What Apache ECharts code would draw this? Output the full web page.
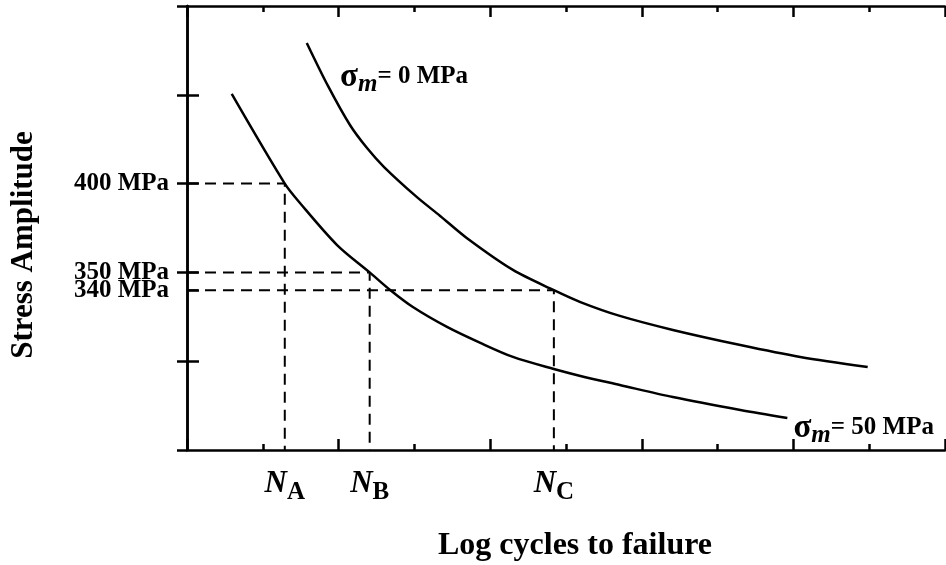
<!DOCTYPE html>
<html><head><meta charset="utf-8">
<script src="https://cdn.jsdelivr.net/npm/echarts@6/dist/echarts.min.js"></script>
<style>html,body{margin:0;padding:0;background:#fff}#c{width:946px;height:565px}</style>
</head><body><div id="c"></div>
<script>
// sigma_m = 0 MPa curve (x: log cycles, arbitrary units; y: stress amplitude MPa)
const curve0X = [1.58, 1.86, 2.15, 2.375, 2.60, 3.03, 3.34, 3.69, 4.30, 4.84, 5.19, 5.71, 6.41, 7.30, 8.09, 8.98];
const curve0Y = [479.2, 455.0, 433.0, 420.0, 409.3, 392.5, 381.8, 369.4, 351.4, 340, 333.3, 325.5, 317.6, 309.1, 302.4, 296.7];
// sigma_m = 50 MPa curve
const curve50X = [0.59, 1.29, 1.49, 1.98, 2.41, 2.68, 2.98, 3.43, 3.87, 4.30, 4.84, 5.19, 5.71, 6.41, 7.30, 7.92];
const curve50Y = [450.5, 400, 389.1, 365.4, 350, 340.1, 330.5, 319.3, 310.3, 302.4, 295.6, 291.7, 286.6, 279.8, 272.5, 268.0];
// stress levels and corresponding lives
const levels = [400, 350, 340];
const lifeNames = ['A', 'B', 'C'];
const lifeX = [1.29, 2.41, 4.84];
const yTicks = [300, 340, 350, 400, 450];
const curveNames = ['σm = 0 MPa', 'σm = 50 MPa'];
const labelAt0 = [2.02, 460];
const labelAt50 = [8.0, 262.4];

const font = 'Liberation Serif';
const chart = echarts.init(document.getElementById('c'));
const zip = (xs, ys) => xs.map((x, i) => [x, ys[i]]);
const dashed = levels.map((lv, i) => ({
  type: 'line', xAxisIndex: 0, yAxisIndex: 0, symbol: 'none', silent: true,
  data: [[0, lv], [lifeX[i], lv], [lifeX[i], 250]],
  lineStyle: { color: '#000', width: 2, type: [11, 7] }, z: 1
}));
const sigmaRich = {
  s: { fontFamily: font, fontSize: 33, fontWeight: 'bold', color: '#000' },
  m: { fontFamily: font, fontSize: 25, fontWeight: 'bold', fontStyle: 'italic', color: '#000', padding: [16, 0, 0, 0] },
  t: { fontFamily: font, fontSize: 25, fontWeight: 'bold', color: '#000' }
};
function curveLabel(coord, text) {
  return {
    symbol: 'circle', symbolSize: 0, silent: true,
    label: { show: true, position: 'right', distance: 0, formatter: text, rich: sigmaRich },
    data: [{ coord: coord }]
  };
}
const axisCommon = {
  type: 'value',
  axisLine: { show: true, lineStyle: { color: '#000', width: 2.5 } },
  splitLine: { show: false }
};
const yLabelStyle = { fontFamily: font, fontSize: 25, fontWeight: 'bold', color: '#000' };
chart.setOption({
  animation: false,
  backgroundColor: '#fff',
  grid: { left: 187, right: 1, top: 6, bottom: 115, containLabel: false, outerBoundsMode: 'none' },
  xAxis: [
    Object.assign({}, axisCommon, {
      position: 'bottom', min: 0, max: 10, interval: 2,
      name: 'Log cycles to failure', nameLocation: 'middle', nameGap: 80,
      nameTextStyle: { fontFamily: font, fontSize: 32, fontWeight: 'bold', color: '#000', padding: [0, 0, 0, 18] },
      axisTick: { show: true, inside: true, length: 11, lineStyle: { color: '#000', width: 2.5 } },
      minorTick: { show: true, splitNumber: 2, length: 6, lineStyle: { color: '#000', width: 2.5 } },
      axisLabel: {
        show: true, customValues: lifeX, margin: 12,
        formatter: (v) => { const i = lifeX.indexOf(v); return '{n|N}{s|' + lifeNames[i] + '}'; },
        rich: {
          n: { fontFamily: font, fontSize: 31, fontStyle: 'italic', fontWeight: 'bold', color: '#000' },
          s: { fontFamily: font, fontSize: 25, fontWeight: 'bold', color: '#000', padding: [18, 0, 0, 0] }
        }
      }
    }),
    Object.assign({}, axisCommon, {
      position: 'top', min: 0, max: 10, interval: 2,
      axisTick: { show: true, inside: true, length: 11, lineStyle: { color: '#000', width: 2.5 } },
      minorTick: { show: true, splitNumber: 2, length: 6, lineStyle: { color: '#000', width: 2.5 } },
      axisLabel: { show: false }
    })
  ],
  yAxis: [
    Object.assign({}, axisCommon, {
      position: 'left', min: 250, max: 500, interval: 50,
      name: 'Stress Amplitude', nameLocation: 'middle', nameGap: 148, nameRotate: 90,
      nameTextStyle: { fontFamily: font, fontSize: 31, fontWeight: 'bold', color: '#000', padding: [0, 34, 0, 0] },
      axisTick: { show: true, inside: true, length: 12, customValues: yTicks, lineStyle: { color: '#000', width: 2.5 } },
      axisLabel: Object.assign({ show: true, customValues: levels.slice(0, 2), margin: 18, formatter: '{value} MPa' }, yLabelStyle)
    }),
    Object.assign({}, axisCommon, {
      position: 'right', min: 250, max: 500, interval: 50,
      axisTick: { show: true, inside: true, length: 10, lineStyle: { color: '#000', width: 2.5 } },
      axisLabel: { show: false }
    }),
    {
      type: 'value', position: 'left', offset: 0, min: 250, max: 500, interval: 50,
      axisLine: { show: false }, axisTick: { show: false }, splitLine: { show: false },
      axisLabel: Object.assign({ show: true, customValues: levels.slice(2), margin: 18, formatter: '{value} MPa' }, yLabelStyle)
    }
  ],
  series: dashed.concat([
    {
      name: curveNames[0], type: 'line', xAxisIndex: 0, yAxisIndex: 0, symbol: 'none', smooth: 0.3,
      data: zip(curve0X, curve0Y), lineStyle: { color: '#000', width: 2.5 }, z: 3,
      markPoint: curveLabel(labelAt0, '{s|σ}{m|m}{t|= 0 MPa}')
    },
    {
      name: curveNames[1], type: 'line', xAxisIndex: 0, yAxisIndex: 0, symbol: 'none', smooth: 0.3,
      data: zip(curve50X, curve50Y), lineStyle: { color: '#000', width: 2.5 }, z: 3,
      markPoint: curveLabel(labelAt50, '{s|σ}{m|m}{t|= 50 MPa}')
    }
  ])
});
</script>
</body></html>
